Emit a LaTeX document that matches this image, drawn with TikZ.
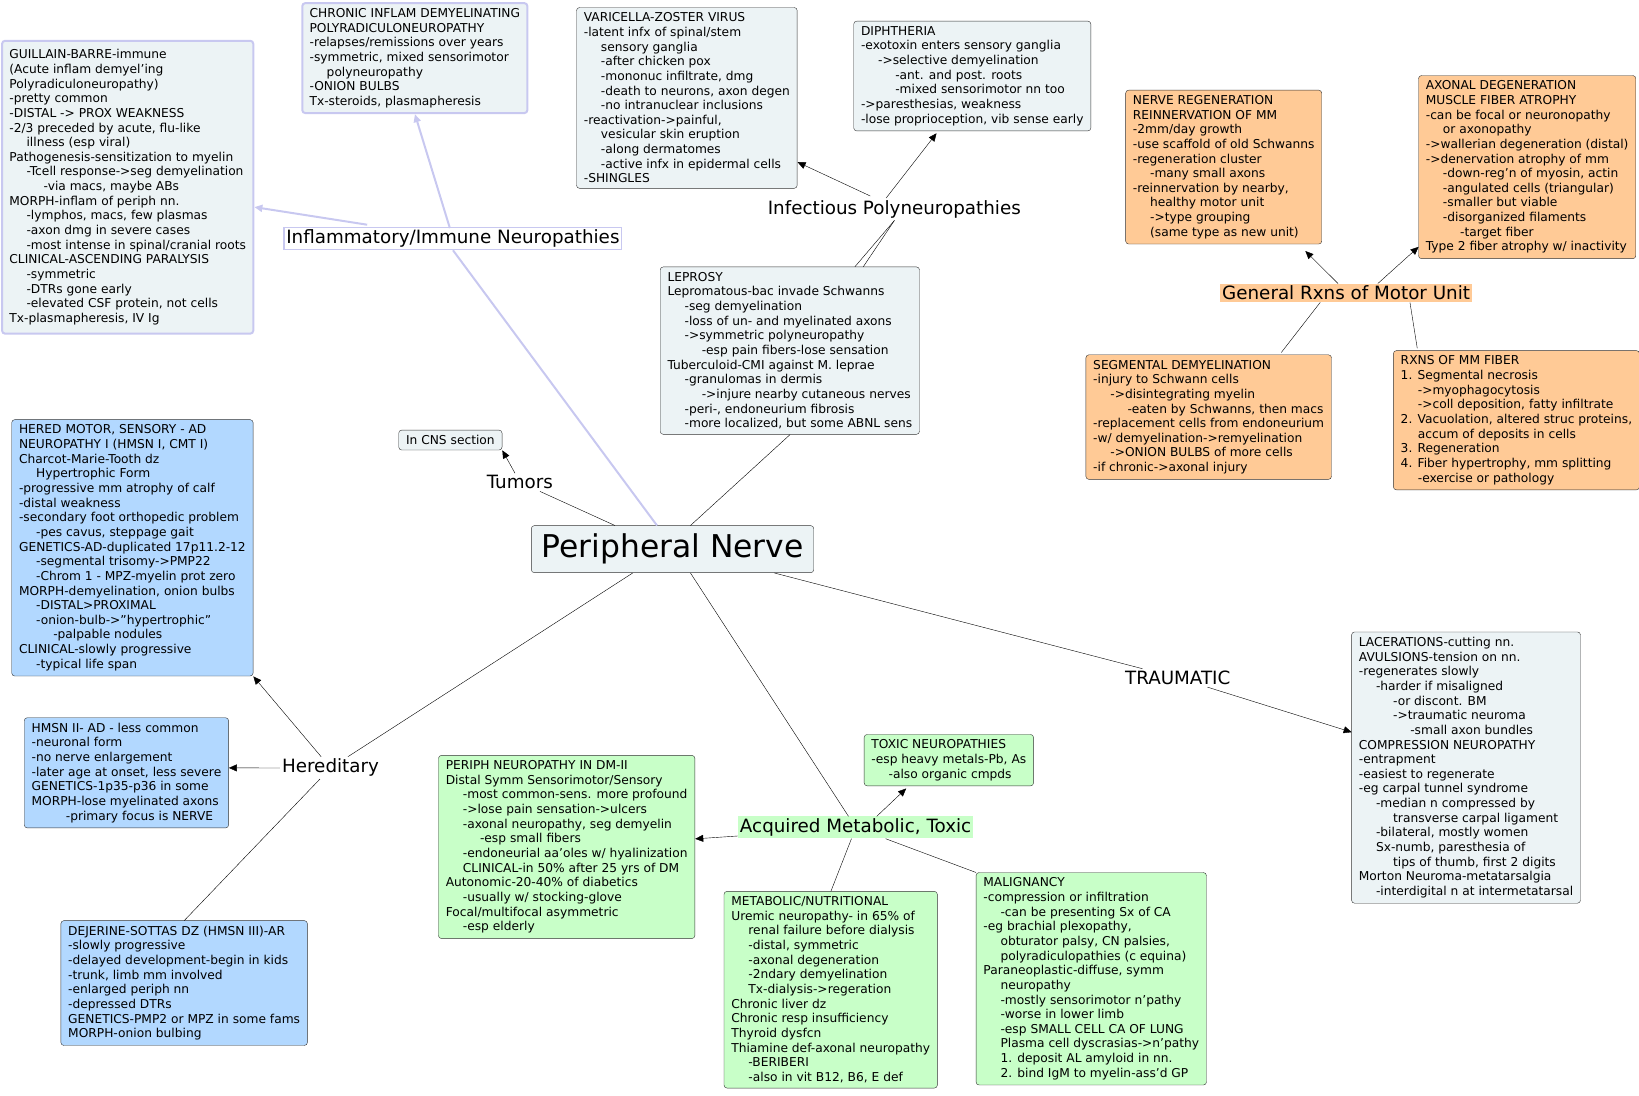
\documentclass[tikz,border=0pt]{standalone}
\usepackage{fontspec}
\setmainfont{DejaVu Sans}
\usetikzlibrary{arrows.meta}
\definecolor{boxgray}{RGB}{236,243,245}
\definecolor{lavender}{RGB}{200,200,240}
\definecolor{hblue}{RGB}{178,216,255}
\definecolor{morange}{RGB}{255,202,150}
\definecolor{agreen}{RGB}{200,255,200}
\tikzstyle{card}=[draw=black!80, fill=boxgray, rounded corners=3pt, anchor=north west, align=left, inner xsep=7pt, inner ysep=5pt, font=\fontsize{11.7}{14}\selectfont]
\tikzstyle{inflam}=[card, draw=lavender, line width=2pt]
\tikzstyle{hered}=[card, fill=hblue]
\tikzstyle{motor}=[card, fill=morange]
\tikzstyle{acq}=[card, fill=agreen]
\tikzstyle{topic}=[inner sep=2pt, font=\fontsize{17.5}{19}\selectfont]
\tikzstyle{link}=[-, draw=black]
\tikzstyle{pointer}=[-{Triangle[length=8pt,width=7pt]}, draw=black]
\newcommand{\ia}{\hspace*{1.4em}}
\newcommand{\ib}{\hspace*{2.8em}}
\newcommand{\ic}{\hspace*{4.2em}}
\begin{document}
\begin{tikzpicture}[x=1pt, y=-1pt, scale=1.046, transform shape]
    \useasboundingbox (0,0) rectangle (1567,1047);
    % centre and topics
    \node [card, anchor=center, font=\fontsize{30}{34}\selectfont, inner sep=7pt, minimum width=270, minimum height=45] (nerve) at (643,525) {Peripheral Nerve};
    \node [topic, draw=lavender, line width=1.5pt, fill=white] (inflam) at (433,228) {Inflammatory/Immune Neuropathies};
    \node [topic, fill=white] (infect) at (855,200) {Infectious Polyneuropathies};
    \node [topic, fill=morange] (motor) at (1287,280) {General Rxns of Motor Unit};
    \node [topic] (tumor) at (497,461) {Tumors};
    \node [topic] (trauma) at (1126,648) {TRAUMATIC};
    \node [topic] (hered) at (316,734) {Hereditary};
    \node [topic, fill=agreen] (acquired) at (818,791) {Acquired Metabolic, Toxic};

    % inflammatory
    \node [inflam, minimum height=280] (gbs) at (1,38) {GUILLAIN-BARRE-immune\\(Acute inflam demyel'ing\\Polyradiculoneuropathy)\\-pretty common\\-DISTAL -> PROX WEAKNESS\\-2/3 preceded by acute, flu-like\\\ia illness (esp viral)\\Pathogenesis-sensitization to myelin\\\ia -Tcell response->seg demyelination\\\ib -via macs, maybe ABs\\MORPH-inflam of periph nn.\\\ia -lymphos, macs, few plasmas\\\ia -axon dmg in severe cases\\\ia -most intense in spinal/cranial roots\\CLINICAL-ASCENDING PARALYSIS\\\ia -symmetric\\\ia -DTRs gone early\\\ia -elevated CSF protein, not cells\\ Tx-plasmapheresis, IV Ig};
    \node [inflam] (cidp) at (288,2) {CHRONIC INFLAM DEMYELINATING\\POLYRADICULONEUROPATHY\\-relapses/remissions over years\\-symmetric, mixed sensorimotor\\\ia polyneuropathy\\-ONION BULBS\\Tx-steroids, plasmapheresis};

    % infectious
    \node [card] (vzv) at (551,7) {VARICELLA-ZOSTER VIRUS\\-latent infx of spinal/stem\\\ia sensory ganglia\\\ia -after chicken pox\\\ia -mononuc infiltrate, dmg\\\ia -death to neurons, axon degen\\\ia -no intranuclear inclusions\\-reactivation->painful,\\\ia vesicular skin eruption\\\ia -along dermatomes\\\ia -active infx in epidermal cells\\-SHINGLES};
    \node [card] (diph) at (816,20) {DIPHTHERIA\\-exotoxin enters sensory ganglia\\\ia ->selective demyelination\\\ib -ant. and post. roots\\\ib -mixed sensorimotor nn too\\->paresthesias, weakness\\-lose proprioception, vib sense early};
    \node [card] (lepro) at (631,255) {LEPROSY\\Lepromatous-bac invade Schwanns\\\ia -seg demyelination\\\ia -loss of un- and myelinated axons\\\ia ->symmetric polyneuropathy\\\ib -esp pain fibers-lose sensation\\Tuberculoid-CMI against M. leprae\\\ia -granulomas in dermis\\\ib ->injure nearby cutaneous nerves\\\ia -peri-, endoneurium fibrosis\\\ia -more localized, but some ABNL sens};

    % motor unit
    \node [motor] (regen) at (1076,86) {NERVE REGENERATION\\REINNERVATION OF MM\\-2mm/day growth\\-use scaffold of old Schwanns\\-regeneration cluster\\\ia -many small axons\\-reinnervation by nearby,\\\ia healthy motor unit\\\ia ->type grouping\\\ia (same type as new unit)};
    \node [motor] (axdeg) at (1356,72) {AXONAL DEGENERATION\\MUSCLE FIBER ATROPHY\\-can be focal or neuronopathy\\\ia or axonopathy\\->wallerian degeneration (distal)\\->denervation atrophy of mm\\\ia -down-reg'n of myosin, actin\\\ia -angulated cells (triangular)\\\ia -smaller but viable\\\ia -disorganized filaments\\\ib -target fiber\\Type 2 fiber atrophy w/ inactivity};
    \node [motor] (segdem) at (1038,339) {SEGMENTAL DEMYELINATION\\-injury to Schwann cells\\\ia ->disintegrating myelin\\\ib -eaten by Schwanns, then macs\\-replacement cells from endoneurium\\-w/ demyelination->remyelination\\\ia ->ONION BULBS of more cells\\-if chronic->axonal injury};
    \node [motor] (mmfib) at (1332,335) {RXNS OF MM FIBER\\1. Segmental necrosis\\\ia ->myophagocytosis\\\ia ->coll deposition, fatty infiltrate\\2. Vacuolation, altered struc proteins,\\\ia accum of deposits in cells\\3. Regeneration\\4. Fiber hypertrophy, mm splitting\\\ia -exercise or pathology};

    % tumors, trauma
    \node [card] (cns) at (381,411) {In CNS section};
    \node [card] (lacer) at (1292,604) {LACERATIONS-cutting nn.\\AVULSIONS-tension on nn.\\-regenerates slowly\\\ia -harder if misaligned\\\ib -or discont. BM\\\ib ->traumatic neuroma\\\ic -small axon bundles\\COMPRESSION NEUROPATHY\\-entrapment\\-easiest to regenerate\\-eg carpal tunnel syndrome\\\ia -median n compressed by\\\ib transverse carpal ligament\\\ia -bilateral, mostly women\\\ia Sx-numb, paresthesia of\\\ib tips of thumb, first 2 digits\\Morton Neuroma-metatarsalgia\\\ia -interdigital n at intermetatarsal};

    % hereditary
    \node [hered] (hmsn1) at (11,401) {HERED MOTOR, SENSORY - AD\\NEUROPATHY I (HMSN I, CMT I)\\Charcot-Marie-Tooth dz\\\ia Hypertrophic Form\\-progressive mm atrophy of calf\\-distal weakness\\-secondary foot orthopedic problem\\\ia -pes cavus, steppage gait\\GENETICS-AD-duplicated 17p11.2-12\\\ia -segmental trisomy->PMP22\\\ia -Chrom 1 - MPZ-myelin prot zero\\MORPH-demyelination, onion bulbs\\\ia -DISTAL>PROXIMAL\\\ia -onion-bulb->"hypertrophic"\\\ib -palpable nodules\\CLINICAL-slowly progressive\\\ia -typical life span};
    \node [hered] (hmsn2) at (23,686) {HMSN II- AD - less common\\-neuronal form\\-no nerve enlargement\\-later age at onset, less severe\\GENETICS-1p35-p36 in some\\MORPH-lose myelinated axons\\\ib -primary focus is NERVE};
    \node [hered] (dejer) at (58,880) {DEJERINE-SOTTAS DZ (HMSN III)-AR\\-slowly progressive\\-delayed development-begin in kids\\-trunk, limb mm involved\\-enlarged periph nn\\-depressed DTRs\\GENETICS-PMP2 or MPZ in some fams\\MORPH-onion bulbing};

    % acquired
    \node [acq] (diab) at (419,722) {PERIPH NEUROPATHY IN DM-II\\Distal Symm Sensorimotor/Sensory\\\ia -most common-sens. more profound\\\ia ->lose pain sensation->ulcers\\\ia -axonal neuropathy, seg demyelin\\\ib -esp small fibers\\\ia -endoneurial aa'oles w/ hyalinization\\\ia CLINICAL-in 50\% after 25 yrs of DM\\Autonomic-20-40\% of diabetics\\\ia -usually w/ stocking-glove\\Focal/multifocal asymmetric\\\ia -esp elderly};
    \node [acq] (toxic) at (826,702) {TOXIC NEUROPATHIES\\-esp heavy metals-Pb, As\\\ia -also organic cmpds};
    \node [acq] (metab) at (692,852) {METABOLIC/NUTRITIONAL\\Uremic neuropathy- in 65\% of\\\ia renal failure before dialysis\\\ia -distal, symmetric\\\ia -axonal degeneration\\\ia -2ndary demyelination\\\ia Tx-dialysis->regeration\\Chronic liver dz\\Chronic resp insufficiency\\Thyroid dysfcn\\Thiamine def-axonal neuropathy\\\ia -BERIBERI\\\ia -also in vit B12, B6, E def};
    \node [acq] (malig) at (933,834) {MALIGNANCY\\-compression or infiltration\\\ia -can be presenting Sx of CA\\-eg brachial plexopathy,\\\ia obturator palsy, CN palsies,\\\ia polyradiculopathies (c equina)\\Paraneoplastic-diffuse, symm\\\ia neuropathy\\\ia -mostly sensorimotor n'pathy\\\ia -worse in lower limb\\\ia -esp SMALL CELL CA OF LUNG\\\ia Plasma cell dyscrasias->n'pathy\\\ia 1. deposit AL amyloid in nn.\\\ia 2. bind IgM to myelin-ass'd GP};

    % connector end points
    \path (diph.south west) ++(79,2) coordinate (d1);
    \path (toxic.south west) ++(40,2) coordinate (t1);

    % connectors
    \draw [link, draw=lavender, line width=2pt] (nerve.north) ++(-15,0) coordinate (n1) -- (inflam.south);
    \draw [pointer, draw=lavender, line width=2pt] (inflam.north west) ++(80,-2) coordinate (i1) -- (gbs.east |- 0,198);
    \draw [pointer, draw=lavender, line width=2pt] (inflam) ++(-3,-10) coordinate (i2) -- (cidp.south);
    \draw [link] (nerve.north) ++(17,0) coordinate (n2) -- (lepro.south);
    \draw [link] (lepro.north) ++(62,0) coordinate (l1) -- (infect.south);
    \draw [link] (lepro.north) ++(70,0) coordinate (l2) -- (infect.south);
    \draw [pointer] (infect.north west) ++(100,-2) coordinate (f1) -- (vzv.east |- 0,155);
    \draw [pointer] (infect.north) ++(-8,0) coordinate (f2) -- (d1);
    \draw [pointer] (motor.north) ++(-8,0) coordinate (m0) -- (1248,240);
    \draw [pointer] (motor.north) ++(30,0) coordinate (m1) -- (axdeg.west |- 0,236);
    \draw [link] (motor.south) ++(-25,0) coordinate (m3) -- (1225,337);
    \draw [link] (motor.south east) ++(-60,0) coordinate (m2) -- (1355,333);
    \draw [link] (nerve.north west) ++(80,0) coordinate (n3) -- (tumor);
    \draw [pointer] (tumor) -- (cns.south east);
    \draw [link] (nerve.south east) ++(-38,0) coordinate (n4) -- (trauma);
    \draw [pointer] (trauma) -- (lacer.west |- 0,700);
    \draw [link] (nerve.south west) ++(97,0) coordinate (n5) -- (hered);
    \draw [pointer] (hered) -- (hmsn1.south east);
    \draw [pointer] (hered) -- (hmsn2.east |- hered);
    \draw [link] (hered) -- (dejer.north);
    \draw [link] (nerve.south) ++(17,0) coordinate (n6) -- (acquired);
    \draw [pointer] (acquired) -- (diab.east |- 0,802);
    \draw [pointer] (acquired.north) ++(20,0) coordinate (a1) -- (t1);
    \draw [link] (acquired) -- (metab.north);
    \draw [link] (acquired) -- (malig.north west);
\end{tikzpicture}
\end{document}
